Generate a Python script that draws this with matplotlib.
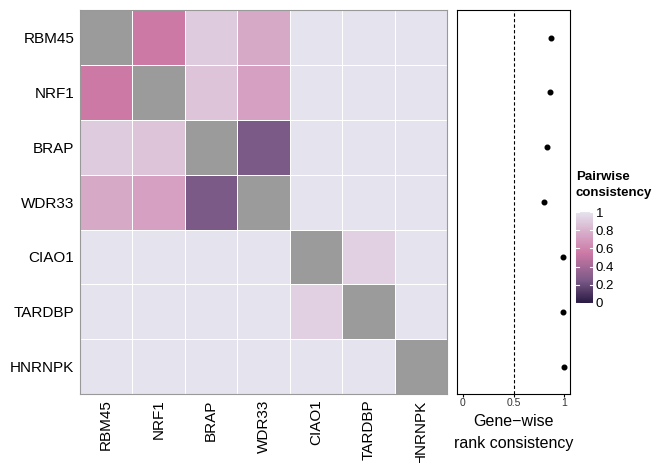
import numpy as np
import matplotlib
matplotlib.use('Agg')
import matplotlib.pyplot as plt
from matplotlib.colors import LinearSegmentedColormap

plt.rcParams['font.family'] = ['Liberation Sans', 'DejaVu Sans']

genes = ['RBM45', 'NRF1', 'BRAP', 'WDR33', 'CIAO1', 'TARDBP', 'HNRNPK']

# pairwise consistency (diagonal left empty -> drawn grey)
pairwise = np.array([
    [np.nan, 0.55, 0.90, 0.76, 1.00, 1.00, 1.00],
    [0.55, np.nan, 0.87, 0.72, 1.00, 1.00, 1.00],
    [0.90, 0.87, np.nan, 0.25, 1.00, 1.00, 1.00],
    [0.76, 0.72, 0.25, np.nan, 1.00, 1.00, 1.00],
    [1.00, 1.00, 1.00, 1.00, np.nan, 0.92, 1.00],
    [1.00, 1.00, 1.00, 1.00, 0.92, np.nan, 1.00],
    [1.00, 1.00, 1.00, 1.00, 1.00, 1.00, np.nan],
])

# gene-wise rank consistency
genewise = [0.87, 0.86, 0.83, 0.80, 0.99, 0.99, 1.00]

cmap = LinearSegmentedColormap.from_list('pw', [
    (0.0, '#291a43'), (0.25, '#7c5a88'), (0.55, '#cd79a6'),
    (0.8, '#d8b2cd'), (1.0, '#e5e4ee')])
cmap.set_bad('#9b9b9b')

fig = plt.figure(figsize=(6.53, 4.63), dpi=100)
ax = fig.add_axes([0.1225, 0.149, 0.562, 0.829])
ax2 = fig.add_axes([0.700, 0.149, 0.173, 0.829])
cax = fig.add_axes([0.882, 0.3456, 0.026, 0.1965])

n = len(genes)
im = ax.pcolormesh(np.arange(n + 1) - 0.5, np.arange(n + 1) - 0.5,
                   np.ma.masked_invalid(pairwise), cmap=cmap, vmin=0, vmax=1,
                   edgecolor='white', linewidth=0.6)
ax.set_xlim(-0.5, n - 0.5)
ax.set_ylim(n - 0.5, -0.5)
ax.set_xticks(range(n))
ax.set_xticklabels(genes, rotation=90, fontsize=11)
ax.set_yticks(range(n))
ax.set_yticklabels(genes, fontsize=11)
ax.tick_params(length=0, pad=4)
for s in ax.spines.values():
    s.set_color('#999999')
    s.set_linewidth(0.8)

# right panel
ax2.scatter(genewise, range(n), s=11, color='black', zorder=3)
ax2.axvline(0.5, color='black', linestyle='--', linewidth=0.8, dashes=(3, 2))
ax2.set_xlim(-0.055, 1.055)
ax2.set_ylim(n - 0.5, -0.5)
ax2.set_yticks([])
ax2.set_xticks([0, 0.5, 1])
ax2.set_xticklabels(['0', '0.5', '1'], fontsize=7.5, color='#333333')
ax2.tick_params(axis='x', length=2, pad=1)
ax2.set_xlabel('Gene\u2212wise\nrank consistency', fontsize=11.5, linespacing=1.6)
for s in ax2.spines.values():
    s.set_linewidth(0.8)

# colourbar
cb = fig.colorbar(im, cax=cax)
cb.outline.set_visible(False)
cb.set_ticks([0, 0.2, 0.4, 0.6, 0.8, 1])
cb.set_ticklabels(['0', '0.2', '0.4', '0.6', '0.8', '1'])
cax.tick_params(length=0, labelsize=9.5, pad=2)
for v in [0, 0.2, 0.4, 0.6, 0.8, 1]:
    cax.plot([0, 0.2], [v, v], color='white', lw=0.8, transform=cax.get_yaxis_transform())
    cax.plot([0.8, 1], [v, v], color='white', lw=0.8, transform=cax.get_yaxis_transform())
fig.text(0.882, 0.57, 'Pairwise\nconsistency', fontsize=9.5, fontweight='bold',
         va='bottom', ha='left', linespacing=1.5)

fig.savefig('out.png', dpi=100)
